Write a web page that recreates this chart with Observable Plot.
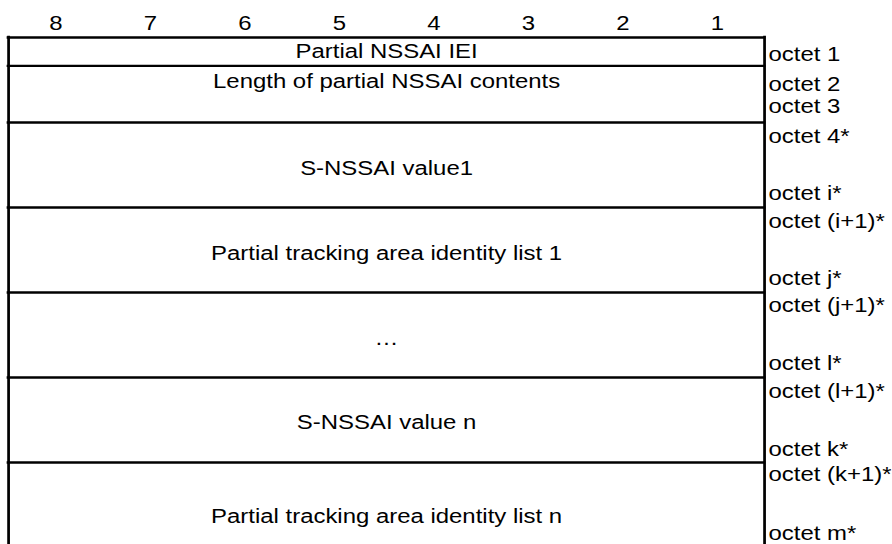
<!DOCTYPE html>
<html><head><meta charset="utf-8">
<script src="https://cdn.jsdelivr.net/npm/d3@7"></script>
<script src="https://cdn.jsdelivr.net/npm/@observablehq/plot@0.6"></script>
<style>
html,body{margin:0;padding:0;background:#fff;overflow:hidden;}
#chart{width:892px;height:544px;overflow:hidden;}
#chart svg{transform:scaleX(1.14);transform-origin:0 0;display:block;}
</style></head><body><div id="chart"></div>
<script>
// Bit numbers across the top
const bitLabels = ["8","7","6","5","4","3","2","1"];
// Fields of the information element (start/end in octet-line units)
const fieldNames = ["Partial NSSAI IEI","Length of partial NSSAI contents","S-NSSAI value1","Partial tracking area identity list 1","…","S-NSSAI value n","Partial tracking area identity list n"];
const fieldStart = [0, 1, 3, 6, 9, 12, 15];
const fieldEnd = [1, 3, 6, 9, 12, 15, 18];
const fieldTextAt = [0.5, 1.55, 4.6, 7.63, 10.6, 13.57, 16.9];
// Octet labels on the right
const octetLabels = ["octet 1","octet 2","octet 3","octet 4*","octet i*","octet (i+1)*","octet j*","octet (j+1)*","octet l*","octet (l+1)*","octet k*","octet (k+1)*","octet m*"];
const octetAt = [0.6, 1.64, 2.42, 3.5, 5.5, 6.5, 8.5, 9.45, 11.5, 12.47, 14.55, 15.42, 17.5];

const S = 1.14;
const W = 892 / S;
const fields = fieldNames.map((name, i) => ({name, start: fieldStart[i], end: fieldEnd[i], at: fieldTextAt[i]}));
const bits = bitLabels.map((b, i) => ({b, col: i + 0.5}));
const octets = octetLabels.map((t, i) => ({t, at: octetAt[i]}));
const bounds = [...fieldStart, fieldEnd[fieldEnd.length - 1]];

const chart = Plot.plot({
  width: W, height: 544, margin: 0,
  x: {domain: [0, 8], range: [8 / S, 764 / S], axis: null},
  y: {domain: [0, 18], range: [37, 547], axis: null},
  style: {fontFamily: "'Liberation Sans', Arial, Helvetica, sans-serif", fontSize: "21px", color: "#000", background: "#fff"},
  marks: [
    Plot.ruleY(bounds, {y: d => d, x1: 0, x2: 8, stroke: "#000", strokeWidth: 2.4, strokeLinecap: "square"}),
    Plot.ruleX([0, 8], {x: d => d, y1: 0, y2: 18, stroke: "#000", strokeWidth: 2.4, strokeLinecap: "square"}),
    Plot.text(fields, {x: 4, y: "at", text: "name", fontSize: 21, fill: "#000"}),
    Plot.text(bits, {x: "col", y: -0.5, text: "b", fontSize: 21, fill: "#000"}),
    Plot.text(octets, {x: 8, y: "at", text: "t", textAnchor: "start", dx: 3.5, fontSize: 21, fill: "#000"})
  ]
});
document.getElementById("chart").append(chart);
</script></body></html>
